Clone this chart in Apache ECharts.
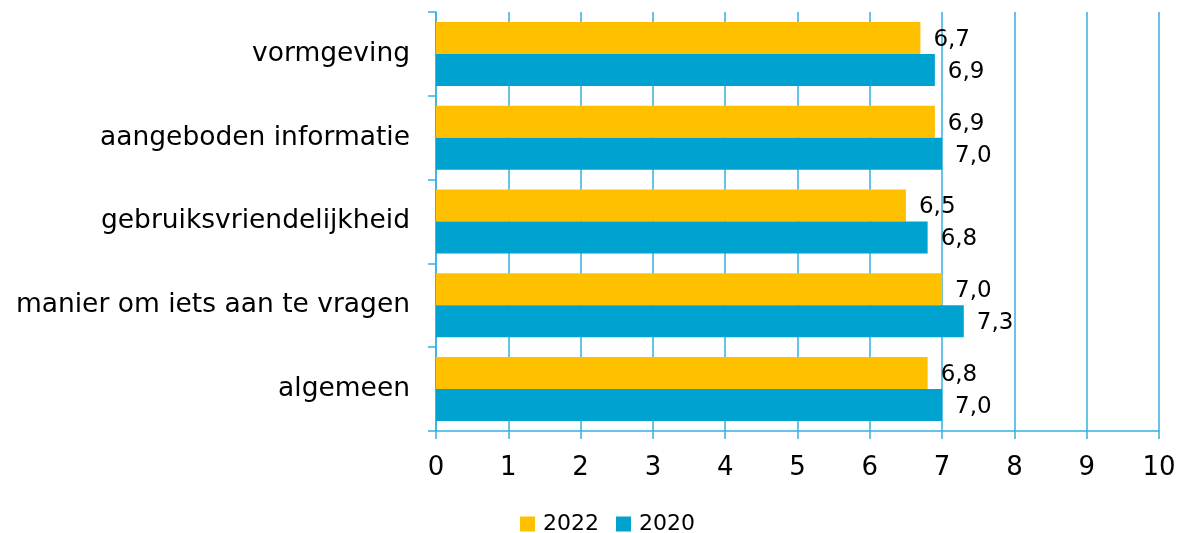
<!DOCTYPE html>
<html>
<head>
<meta charset="utf-8">
<script src="https://cdn.jsdelivr.net/npm/echarts@6/dist/echarts.min.js"></script>
<style>
  html, body { margin: 0; padding: 0; background: #ffffff; }
  #chart { width: 1194px; height: 533px; }
</style>
</head>
<body>
<div id="chart"></div>
<script>
// Beoordeling van de website (rapportcijfers), top-down volgorde
const categories = [
  'vormgeving',
  'aangeboden informatie',
  'gebruiksvriendelijkheid',
  'manier om iets aan te vragen',
  'algemeen'
];
const values2022 = [6.7, 6.9, 6.5, 7.0, 6.8];
const values2020 = [6.9, 7.0, 6.8, 7.3, 7.0];
const xTicks = [0, 1, 2, 3, 4, 5, 6, 7, 8, 9, 10];

const FONT = 'DejaVu Sans';
const AXIS_BLUE = '#35B1DF';

const fmt = p => p.value.toFixed(1).replace('.', ',');

const valueLabel = {
  show: true,
  position: 'right',
  distance: 13,
  formatter: fmt,
  fontFamily: FONT,
  fontSize: 23,
  color: '#000000',
  offset: [0, 2]
};

const chart = echarts.init(document.getElementById('chart'), null, { renderer: 'canvas' });

chart.setOption({
  animation: false,
  backgroundColor: '#ffffff',
  grid: { left: 436, right: 35, top: 12, bottom: 102, containLabel: false },
  legend: {
    data: ['2022', '2020'],
    left: 520,
    top: 513,
    padding: 0,
    icon: 'rect',
    itemWidth: 15,
    itemHeight: 15,
    itemGap: 17,
    textStyle: { fontFamily: FONT, fontSize: 22, color: '#000000', padding: [0, 0, 0, 3] }
  },
  xAxis: {
    type: 'value',
    min: xTicks[0],
    max: xTicks[xTicks.length - 1],
    interval: 1,
    axisLine: { show: true, lineStyle: { color: AXIS_BLUE, width: 1.5 } },
    axisTick: { show: true, length: 8, lineStyle: { color: AXIS_BLUE, width: 1.5 } },
    splitLine: { show: true, lineStyle: { color: AXIS_BLUE, width: 1.5 } },
    axisLabel: {
      margin: 24,
      fontFamily: FONT,
      fontSize: 26,
      color: '#000000',
      formatter: v => String(v)
    }
  },
  yAxis: {
    type: 'category',
    inverse: true,
    data: categories,
    axisLine: { show: true, lineStyle: { color: AXIS_BLUE, width: 1.5 } },
    axisTick: { show: true, length: 8, lineStyle: { color: AXIS_BLUE, width: 1.5 } },
    axisLabel: {
      margin: 26,
      fontFamily: FONT,
      fontSize: 26.5,
      color: '#000000'
    }
  },
  series: [
    {
      name: '2022',
      type: 'bar',
      data: values2022,
      barWidth: 32,
      barGap: '0%',
      itemStyle: { color: '#FFC000' },
      label: valueLabel
    },
    {
      name: '2020',
      type: 'bar',
      data: values2020,
      barWidth: 32,
      barGap: '0%',
      itemStyle: { color: '#00A2CF' },
      label: valueLabel
    }
  ]
});
</script>
</body>
</html>
